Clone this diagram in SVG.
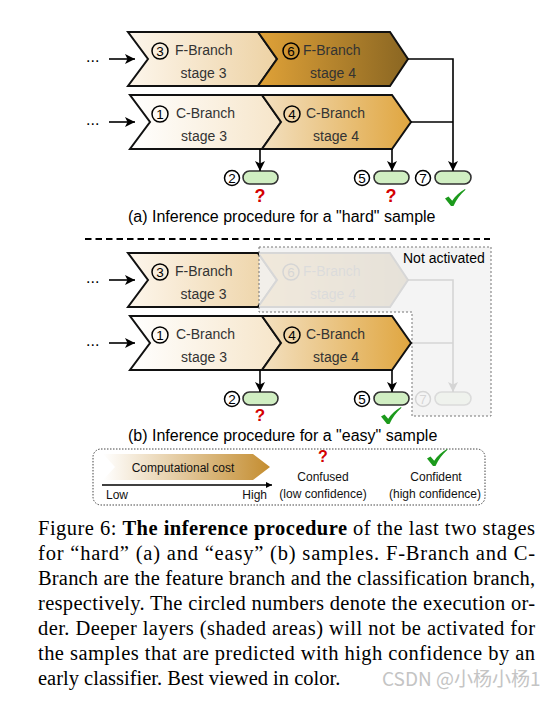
<svg xmlns="http://www.w3.org/2000/svg" width="559" height="701" viewBox="0 0 559 701">
<defs>
<linearGradient id="gF3" x1="0" y1="0" x2="1" y2="0"><stop offset="0" stop-color="#fdf6ec"/><stop offset="1" stop-color="#edd2a4"/></linearGradient>
<linearGradient id="gC3" x1="0" y1="0" x2="1" y2="0"><stop offset="0" stop-color="#ffffff"/><stop offset="1" stop-color="#f6e5c9"/></linearGradient>
<linearGradient id="gC4" x1="0" y1="0" x2="1" y2="0"><stop offset="0" stop-color="#f3e0c0"/><stop offset="1" stop-color="#e0a640"/></linearGradient>
<linearGradient id="gF4" x1="0" y1="0" x2="1" y2="0"><stop offset="0" stop-color="#e0a238"/><stop offset="1" stop-color="#8a6622"/></linearGradient>
<linearGradient id="gLeg" x1="0" y1="0" x2="1" y2="0"><stop offset="0" stop-color="#ffffff"/><stop offset="1" stop-color="#c48d30"/></linearGradient>
<marker id="ah" viewBox="0 0 10 10" refX="10" refY="5" markerWidth="10" markerHeight="10" markerUnits="userSpaceOnUse" orient="auto"><path d="M0,0 L10,5 L0,10 L2.5,5 z" fill="#000"/></marker>
<marker id="ahs" viewBox="0 0 10 10" refX="10" refY="5" markerWidth="6" markerHeight="6" markerUnits="userSpaceOnUse" orient="auto"><path d="M0,0 L10,5 L0,10 z" fill="#000"/></marker>
<path id="tick" d="M0,9.5 L3.5,7.5 L7.2,11.8 C10.5,7 14.5,3 20,0 L20.5,0.8 C15.5,5 11.5,10.5 8.5,17 L6,17 Z" fill="#1c9a1c"/>
</defs>
<style>
.t{font-family:"Liberation Sans",Arial,sans-serif;fill:#333}
.lbl{font-size:14px}
.num{font-family:"Liberation Sans",Arial,sans-serif;font-size:13.5px;text-anchor:middle;fill:#000}
.cn{fill:none;stroke:#000;stroke-width:1.5}
.chev{stroke:#111;stroke-width:2;stroke-linejoin:miter}
.ln{fill:none;stroke:#000;stroke-width:1.6}
.pill{fill:#d0eec2;stroke:#333;stroke-width:1.6}
.q{font-family:"Liberation Sans",Arial,sans-serif;font-weight:bold;fill:#d40000;text-anchor:middle}
.cap{font-family:"Liberation Sans",Arial,sans-serif;font-size:16px;fill:#000}
.leg{font-family:"Liberation Sans",Arial,sans-serif;font-size:12px;fill:#111}
.mid{text-anchor:middle}
.para{font-family:"Liberation Serif","Times New Roman",serif;font-size:20.5px;fill:#000}
.dots{font-family:"Liberation Sans",Arial,sans-serif;font-size:16px;fill:#000}
</style>
<rect width="559" height="701" fill="#fff"/>

<!-- (a) -->
<g id="a-F3">
<polygon class="chev" fill="url(#gF3)" points="128,32 258,32 277,59 258,86 128,86 148,59"/>
<circle class="cn" cx="160" cy="51" r="8"/><text class="num" x="160" y="55.5">3</text>
<text class="t lbl" x="175" y="55">F-Branch</text>
<text class="t lbl mid" x="203.5" y="78">stage 3</text>
</g>
<g id="a-F4">
<polygon class="chev" fill="url(#gF4)" points="258,32 390,32 408,59 390,86 258,86 277,59"/>
<circle class="cn" cx="291" cy="51" r="8"/><text class="num" x="291" y="55.5">6</text>
<text class="t lbl" x="303" y="55">F-Branch</text>
<text class="t lbl mid" x="333" y="78">stage 4</text>
</g>
<g id="a-C3">
<polygon class="chev" fill="url(#gC3)" points="130,95 262,95 281,122 262,149 130,149 150,122"/>
<circle class="cn" cx="160" cy="114" r="8"/><text class="num" x="160" y="118.5">1</text>
<text class="t lbl" x="176" y="118">C-Branch</text>
<text class="t lbl mid" x="204" y="141">stage 3</text>
</g>
<g id="a-C4">
<polygon class="chev" fill="url(#gC4)" points="262,95 392,95 411,122 392,149 262,149 281,122"/>
<circle class="cn" cx="292" cy="114" r="8"/><text class="num" x="292" y="118.5">4</text>
<text class="t lbl" x="306" y="118">C-Branch</text>
<text class="t lbl mid" x="336" y="141">stage 4</text>
</g>
<g id="a-out2">
<circle class="cn" cx="232" cy="178" r="7.5"/><text class="num" x="232" y="182.5">2</text>
<rect class="pill" x="243" y="171" width="35" height="13" rx="6.5"/>
<text class="q" x="260" y="202" font-size="18">?</text>
</g>
<g id="a-out5">
<circle class="cn" cx="362" cy="178" r="7.5"/><text class="num" x="362" y="182.5">5</text>
<rect class="pill" x="374" y="171" width="35" height="13" rx="6.5"/>
<text class="q" x="391" y="202" font-size="18">?</text>
</g>
<g id="a-out7">
<circle class="cn" cx="423" cy="178" r="7.5"/><text class="num" x="423" y="182.5">7</text>
<rect class="pill" x="435" y="171" width="36" height="13" rx="6.5"/>
<use href="#tick" x="445" y="189"/>
</g>
<g id="a-connectors">
<text class="dots" x="86" y="62">...</text>
<text class="dots" x="86" y="125">...</text>
<line class="ln" x1="109" y1="59" x2="135" y2="59" marker-end="url(#ah)"/>
<line class="ln" x1="109" y1="122" x2="135" y2="122" marker-end="url(#ah)"/>
<line class="ln" x1="260" y1="149" x2="260" y2="171" marker-end="url(#ah)"/>
<line class="ln" x1="392" y1="149" x2="392" y2="171" marker-end="url(#ah)"/>
<polyline class="ln" points="408,59 453,59 453,171" marker-end="url(#ah)"/>
<line class="ln" x1="411" y1="122" x2="453" y2="122"/>
</g>
<text class="cap" x="128" y="222">(a) Inference procedure for a "hard" sample</text>

<line x1="85" y1="239" x2="490" y2="239" stroke="#000" stroke-width="2" stroke-dasharray="6.5,4"/>

<!-- (b) -->
<g id="b-F3">
<polygon class="chev" fill="url(#gF3)" points="128,253 258,253 277,280 258,307 128,307 148,280"/>
<circle class="cn" cx="160" cy="272" r="8"/><text class="num" x="160" y="276.5">3</text>
<text class="t lbl" x="175" y="276">F-Branch</text>
<text class="t lbl mid" x="203.5" y="299">stage 3</text>
</g>
<g id="b-F4">
<polygon class="chev" fill="url(#gF4)" points="258,253 390,253 408,280 390,307 258,307 277,280"/>
<circle class="cn" cx="291" cy="272" r="8"/><text class="num" x="291" y="276.5">6</text>
<text class="t lbl" x="303" y="276">F-Branch</text>
<text class="t lbl mid" x="333" y="299">stage 4</text>
</g>
<g id="b-C3">
<polygon class="chev" fill="url(#gC3)" points="130,316 262,316 281,343 262,370 130,370 150,343"/>
<circle class="cn" cx="160" cy="335" r="8"/><text class="num" x="160" y="339.5">1</text>
<text class="t lbl" x="176" y="339">C-Branch</text>
<text class="t lbl mid" x="204" y="362">stage 3</text>
</g>
<g id="b-out7">
<circle class="cn" cx="423" cy="399" r="7.5"/><text class="num" x="423" y="403.5">7</text>
<rect class="pill" x="435" y="392" width="36" height="13" rx="6.5"/>
</g>
<g id="b-connectors-inactive">
<polyline class="ln" points="408,280 453,280 453,392" marker-end="url(#ah)"/>
<line class="ln" x1="411" y1="343" x2="453" y2="343"/>
</g>
<g id="b-inactive-area">
<polygon points="259,247 491,247 491,416 412,416 412,312 259,312" fill="#f3f3f3" fill-opacity="0.88" stroke="#777" stroke-width="1" stroke-dasharray="2,2"/>
<text x="403" y="263" font-family="Liberation Sans, Arial, sans-serif" font-size="14" fill="#000">Not activated</text>
</g>
<g id="b-C4">
<polygon class="chev" fill="url(#gC4)" points="262,316 392,316 411,343 392,370 262,370 281,343"/>
<circle class="cn" cx="292" cy="335" r="8"/><text class="num" x="292" y="339.5">4</text>
<text class="t lbl" x="306" y="339">C-Branch</text>
<text class="t lbl mid" x="336" y="362">stage 4</text>
</g>
<g id="b-out2">
<circle class="cn" cx="232" cy="399" r="7.5"/><text class="num" x="232" y="403.5">2</text>
<rect class="pill" x="243" y="392" width="35" height="13" rx="6.5"/>
<text class="q" x="260" y="421" font-size="17">?</text>
</g>
<g id="b-out5">
<circle class="cn" cx="362" cy="399" r="7.5"/><text class="num" x="362" y="403.5">5</text>
<rect class="pill" x="374" y="392" width="35" height="13" rx="6.5"/>
<use href="#tick" x="381" y="407"/>
</g>
<g id="b-connectors">
<text class="dots" x="86" y="283">...</text>
<text class="dots" x="86" y="346">...</text>
<line class="ln" x1="109" y1="280" x2="135" y2="280" marker-end="url(#ah)"/>
<line class="ln" x1="109" y1="343" x2="135" y2="343" marker-end="url(#ah)"/>
<line class="ln" x1="260" y1="370" x2="260" y2="392" marker-end="url(#ah)"/>
<line class="ln" x1="392" y1="370" x2="392" y2="392" marker-end="url(#ah)"/>
</g>
<text class="cap" x="128" y="440.5">(b) Inference procedure for a "easy" sample</text>

<!-- legend -->
<g id="legend">
<rect x="93" y="449" width="392" height="56" rx="8" fill="none" stroke="#444" stroke-width="1" stroke-dasharray="1.5,1.5"/>
<polygon fill="url(#gLeg)" points="103,454 253,454 270,467 253,480 103,480 115,467"/>
<text class="leg mid" x="183" y="472" font-size="12.5" fill="#333">Computational cost</text>
<line x1="102" y1="485" x2="272" y2="485" stroke="#000" stroke-width="1.3" marker-end="url(#ahs)"/>
<text class="leg" x="106" y="499">Low</text>
<text class="leg" x="267" y="499" text-anchor="end">High</text>
<text class="q" x="323" y="462" font-size="16">?</text>
<text class="leg mid" x="323" y="481">Confused</text>
<text class="leg mid" x="323" y="498">(low confidence)</text>
<use href="#tick" x="427" y="449"/>
<text class="leg mid" x="436" y="481">Confident</text>
<text class="leg mid" x="435" y="498">(high confidence)</text>
</g>

<!-- caption -->
<g id="caption">
<text class="para" x="38" y="535" textLength="497" lengthAdjust="spacing">Figure 6: <tspan font-weight="bold">The inference procedure</tspan> of the last two stages</text>
<text class="para" x="38" y="560" textLength="497" lengthAdjust="spacing">for “hard” (a) and “easy” (b) samples.  F-Branch and C-</text>
<text class="para" x="38" y="585" textLength="497" lengthAdjust="spacing">Branch are the feature branch and the classification branch,</text>
<text class="para" x="38" y="610" textLength="497" lengthAdjust="spacing">respectively.  The circled numbers denote the execution or-</text>
<text class="para" x="38" y="635" textLength="497" lengthAdjust="spacing">der.  Deeper layers (shaded areas) will not be activated for</text>
<text class="para" x="38" y="660" textLength="497" lengthAdjust="spacing">the samples that are predicted with high confidence by an</text>
<text class="para" x="38" y="685">early classifier. Best viewed in color.</text>
<text x="382" y="686" font-family="Noto Sans CJK SC, sans-serif" font-size="19" fill="#c4c4c4">CSDN @小杨小杨1</text>
</g>
</svg>
